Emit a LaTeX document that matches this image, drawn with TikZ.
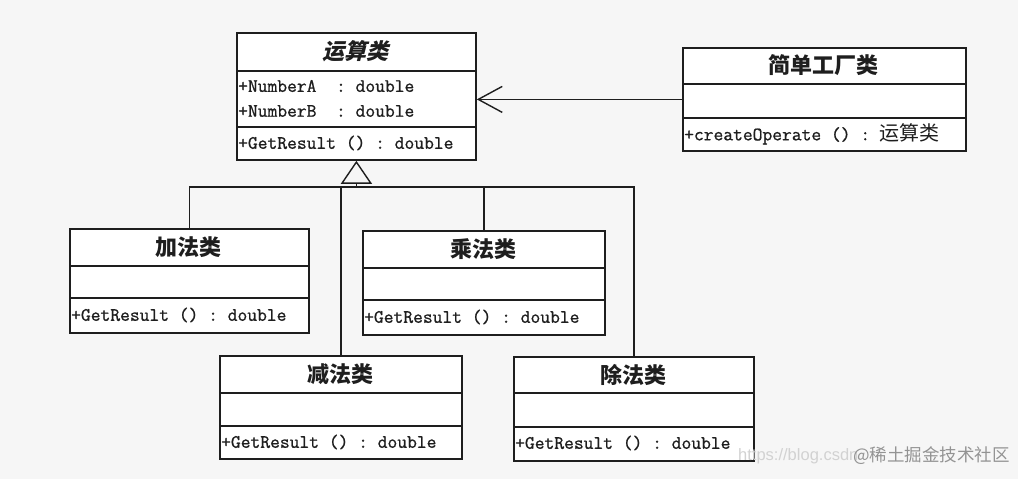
\documentclass[tikz,border=0pt]{standalone}
\usepackage{fontspec}
\setmonofont{Latin Modern Mono}[FakeBold=0.9]
\newfontfamily\cjk{Noto Sans CJK SC}
\newfontfamily\cjkslant{Noto Sans CJK SC}[FakeSlant=0.25]
\newfontfamily\wmfont{Liberation Sans}
\usetikzlibrary{arrows.meta}
\definecolor{bg}{RGB}{246,246,246}
\definecolor{ink}{RGB}{30,30,30}
\begin{document}
\begin{tikzpicture}[x=1pt,y=-1pt,
  classbox/.style={draw=ink, line width=1.8pt, fill=white, inner sep=0pt, anchor=north west},
  sepline/.style={draw=ink, line width=1.6pt},
  ctitle/.style={font=\cjk\bfseries\fontsize{22}{22}\selectfont, text=ink, inner sep=0pt},
  member/.style={font=\ttfamily\fontsize{19}{19}\selectfont, text=ink, anchor=west, inner sep=0pt},
  conn/.style={draw=ink, line width=1.4pt},
]
\fill[bg] (0,0) rectangle (1018,479);
\useasboundingbox (0,0) rectangle (1018,479);

% abstract class
\node[classbox, minimum width=239pt, minimum height=127pt] (op) at (236,32) {};
\draw[sepline] (236,71) -- (475,71);
\draw[sepline] (236,127) -- (475,127);
\node[ctitle, font=\cjkslant\bfseries\fontsize{22}{22}\selectfont] (opT) at (355.5,51.5) {运算类};
\node[member] (opA) at (238,86) {+NumberA\ \ :\ double};
\node[member] (opB) at (238,111) {+NumberB\ \ :\ double};
\node[member] (opM) at (238,143) {+GetResult\ ()\ :\ double};

% factory
\node[classbox, minimum width=283pt, minimum height=103pt] (fac) at (682,47) {};
\draw[sepline] (682,84) -- (965,84);
\draw[sepline] (682,118) -- (965,118);
\node[ctitle] (facT) at (823.5,65.5) {简单工厂类};
\node[member] (facM) at (684,134) {+createOperate\ ()\ :\ {\cjk\fontsize{20}{20}\selectfont 运算类}};

% add
\node[classbox, minimum width=239pt, minimum height=104pt] (add) at (69,228) {};
\draw[sepline] (69,266) -- (308,266);
\draw[sepline] (69,298) -- (308,298);
\node[ctitle] (addT) at (188.5,247) {加法类};
\node[member] (addM) at (71,315) {+GetResult\ ()\ :\ double};

% mul
\node[classbox, minimum width=242pt, minimum height=104pt] (mul) at (362,230) {};
\draw[sepline] (362,268) -- (604,268);
\draw[sepline] (362,300) -- (604,300);
\node[ctitle] (mulT) at (483,249) {乘法类};
\node[member] (mulM) at (364,317) {+GetResult\ ()\ :\ double};

% sub
\node[classbox, minimum width=242pt, minimum height=103pt] (sub) at (219,355) {};
\draw[sepline] (219,393) -- (461,393);
\draw[sepline] (219,426) -- (461,426);
\node[ctitle] (subT) at (340,374) {减法类};
\node[member] (subM) at (221,442) {+GetResult\ ()\ :\ double};

% div
\node[classbox, minimum width=240pt, minimum height=104pt] (div) at (513,356) {};
\draw[sepline] (513,393) -- (753,393);
\draw[sepline] (513,427) -- (753,427);
\node[ctitle] (divT) at (633,374.5) {除法类};
\node[member] (divM) at (515,443) {+GetResult\ ()\ :\ double};

% connectors
\coordinate (busy) at (0,187);
\draw[conn] (add.north) |- (div.north |- busy) -- (div.north);
\draw[conn] (sub.north) -- (sub.north |- busy);
\draw[conn] (mul.north) -- (mul.north |- busy);
\draw[conn, -{Triangle[open, length=23pt, width=31pt, line width=1.4pt]}] (op.south |- busy) -- (op.south);
\draw[conn, -{Straight Barb[length=24pt, width=26pt, line width=1.4pt]}] (fac.west) -- (fac.west -| op.east);

% watermark
\node[font=\wmfont\fontsize{16.5}{16.5}\selectfont, text=gray!35, anchor=west, inner sep=0pt] (wm1) at (738,456) {https://blog.csdn};
\node[font=\cjk\fontsize{17.5}{17.5}\selectfont, text=gray!85, anchor=west, inner sep=0pt] (wm2) at (853,456) {@稀土掘金技术社区};
\end{tikzpicture}
\end{document}
